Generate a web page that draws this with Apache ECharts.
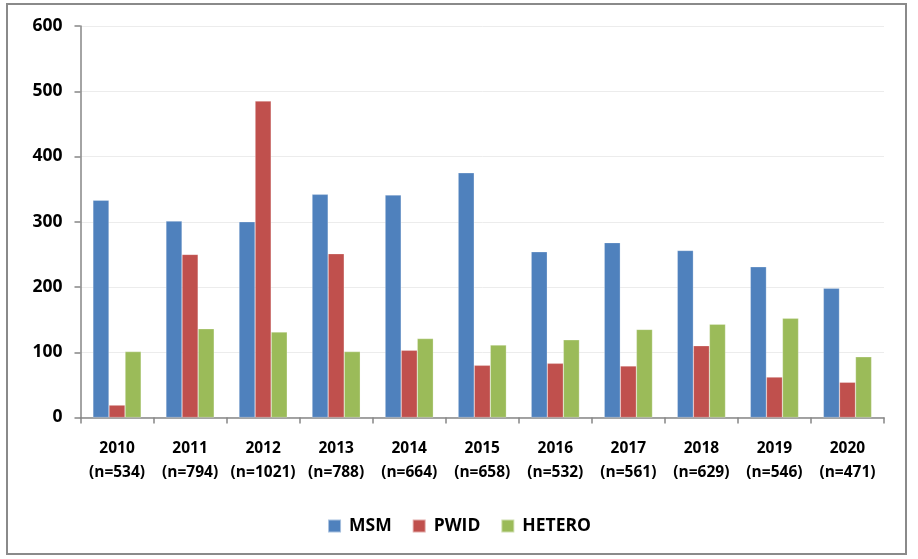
<!DOCTYPE html>
<html>
<head>
<meta charset="utf-8">
<script src="https://cdn.jsdelivr.net/npm/echarts@6/dist/echarts.min.js"></script>
<style>
html,body{margin:0;padding:0;background:#fff;}
#c{width:918px;height:559px;}
</style>
</head>
<body>
<div id="c"></div>
<script>
const years = ['2010','2011','2012','2013','2014','2015','2016','2017','2018','2019','2020'];
const counts = [534,794,1021,788,664,658,532,561,629,546,471];
const msm = [333,301,300,342,341,375,254,268,256,231,198];
const pwid = [19,250,485,251,103,80,83,79,110,62,54];
const hetero = [101,136,131,101,121,111,119,135,143,152,93];
const yTicks = [0,100,200,300,400,500,600];

const categories = years.map((y,i)=>y+'\n(n='+counts[i]+')');
const font = '"Open Sans", "Liberation Sans", sans-serif';

const chart = echarts.init(document.getElementById('c'), null, {renderer:'canvas'});
const barStyle = (c)=>({color:c, borderColor:'rgba(255,255,255,0.5)', borderWidth:0.5});
chart.setOption({
  animation:false,
  backgroundColor:'#fff',
  graphic:[{
    type:'rect', shape:{x:7,y:4,width:899,height:550},
    style:{fill:'none', stroke:'#8a8a8a', lineWidth:2}, silent:true, z:-1
  }],
  grid:{left:80.5, right:34, top:26, bottom:141.5},
  legend:{
    data:['MSM','PWID','HETERO'],
    top:512, left:'center',
    itemWidth:13, itemHeight:13, itemGap:20,
    icon:'rect',
    textStyle:{fontFamily:font, fontWeight:'bold', fontSize:17.5, color:'#000', padding:[0,0,0,3]}
  },
  xAxis:{
    type:'category', data:categories, boundaryGap:true,
    axisLine:{lineStyle:{color:'#868686', width:1.5}},
    axisTick:{show:true, length:6, alignWithLabel:false, lineStyle:{color:'#868686', width:1.5}},
    axisLabel:{interval:0, margin:19, fontFamily:font, fontWeight:'bold', fontSize:15.5, color:'#000', lineHeight:24}
  },
  yAxis:{
    type:'value', min:yTicks[0], max:yTicks[yTicks.length-1], interval:100,
    axisLine:{show:true, lineStyle:{color:'#868686', width:1.5}},
    axisTick:{show:true, length:6, inside:false, lineStyle:{color:'#868686', width:1.5}},
    axisLabel:{margin:18, fontFamily:font, fontWeight:'bold', fontSize:17.5, color:'#000'},
    splitLine:{lineStyle:{color:'#ececec', width:1}}
  },
  series:[
    {name:'MSM', type:'bar', data:msm, itemStyle:barStyle('#4F81BD'), barGap:'0%', barCategoryGap:'34%'},
    {name:'PWID', type:'bar', data:pwid, itemStyle:barStyle('#C0504D'), barGap:'0%', barCategoryGap:'34%'},
    {name:'HETERO', type:'bar', data:hetero, itemStyle:barStyle('#9BBB59'), barGap:'0%', barCategoryGap:'34%'}
  ]
});
</script>
</body>
</html>
